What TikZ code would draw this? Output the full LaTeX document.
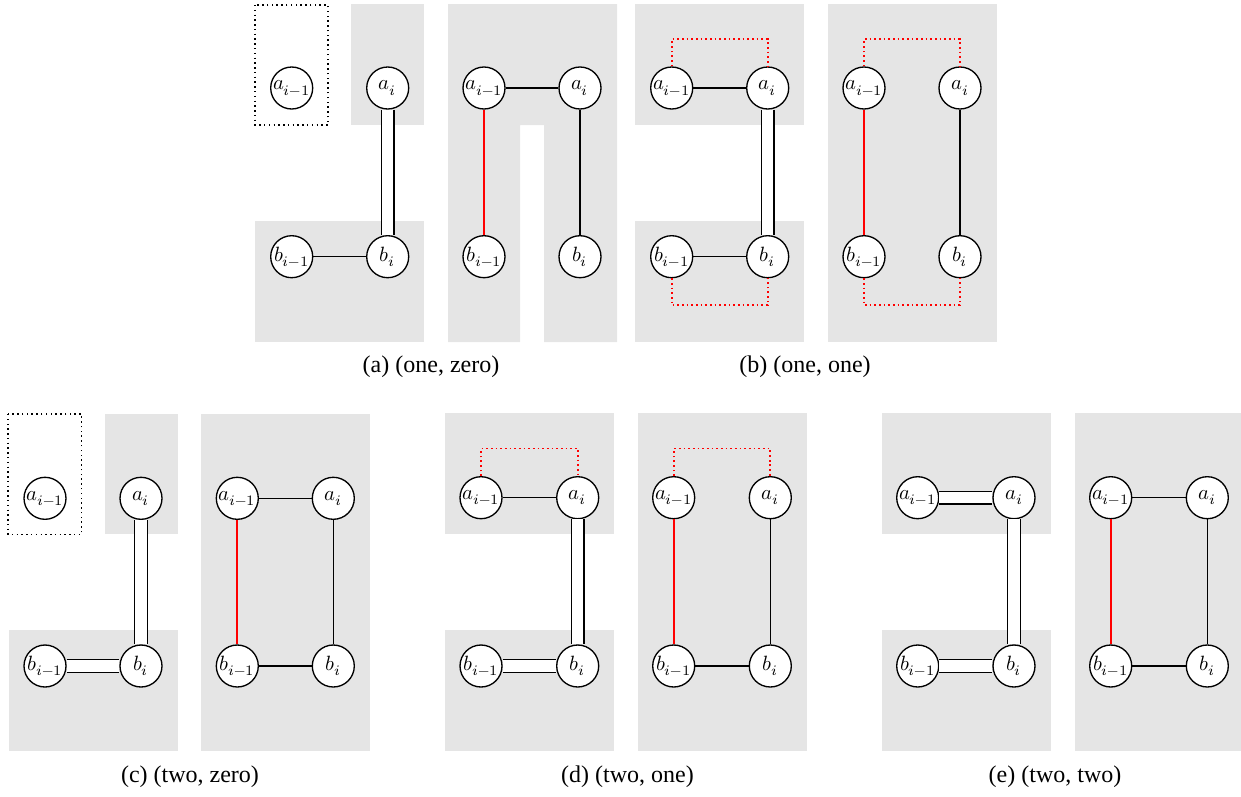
\documentclass[tikz,border=0pt]{standalone}
\usepackage{fontspec}
\setmainfont{Liberation Serif}
\usepackage{unicode-math}
\setmathfont{Latin Modern Math}
\begin{document}
\begin{tikzpicture}[x=0.45pt,y=-0.45pt,
  vnode/.style={circle,draw,line width=0.6pt,fill=white,minimum size=18.9pt,inner sep=0pt,font=\fontsize{9.3}{10}\selectfont},
  bg/.style={fill=black!10,draw=none},
  dotbox/.style={draw,line width=0.65pt,dash pattern=on 0.65pt off 1.5pt},
  sedge/.style={line width=0.65pt},
  redge/.style={line width=0.8pt,red},
  dbl/.style={line width=0.65pt,double,double distance=5.1pt},
  rdot/.style={red,line width=0.8pt,dash pattern=on 0.8pt off 1.3pt},
  captext/.style={font=\fontsize{10.8}{12}\selectfont}]
\useasboundingbox (0,0) rectangle (1241,796);

% ---------- (a) ----------
\draw[dotbox] (255,5) rectangle (328,125);
\fill[bg] (351,4) rectangle (424,125);
\fill[bg] (255,221) rectangle (424,342);
\node[vnode] (aA1) at (291.7,88) {$a_{i-1}$};
\node[vnode] (aA2) at (387.7,88) {$a_i$};
\node[vnode] (aB1) at (291.7,256.7) {$b_{i-1}$};
\node[vnode] (aB2) at (387.7,256.7) {$b_i$};
\draw[dbl] (aA2) -- (aB2);
\draw[sedge] (aB1) -- (aB2);

\fill[bg] (448,4) -- (617,4) -- (617,342) -- (544,342) -- (544,125) -- (520,125) -- (520,342) -- (448,342) -- cycle;
\node[vnode] (aC1) at (484,88) {$a_{i-1}$};
\node[vnode] (aC2) at (580,88) {$a_i$};
\node[vnode] (aD1) at (484,256.7) {$b_{i-1}$};
\node[vnode] (aD2) at (580,256.7) {$b_i$};
\draw[sedge] (aC1) -- (aC2);
\draw[redge] (aC1) -- (aD1);
\draw[sedge] (aC2) -- (aD2);
\node[captext] (capa) at (431,367) {(a) (one, zero)};

% ---------- (b) ----------
\fill[bg] (635,4) rectangle (804,125);
\fill[bg] (635,221) rectangle (804,342);
\node[vnode] (bA1) at (671.7,88) {$a_{i-1}$};
\node[vnode] (bA2) at (767.7,88) {$a_i$};
\node[vnode] (bB1) at (671.7,256.7) {$b_{i-1}$};
\node[vnode] (bB2) at (767.7,256.7) {$b_i$};
\draw[sedge] (bA1) -- (bA2);
\draw[sedge] (bB1) -- (bB2);
\draw[dbl] (bA2) -- (bB2);
\draw[rdot] (bA1.north) -- ++(0,-27) -| (bA2.north);
\draw[rdot] (bB1.south) -- ++(0,27) -| (bB2.south);

\fill[bg] (828,4) rectangle (997,342);
\node[vnode] (bC1) at (864,88) {$a_{i-1}$};
\node[vnode] (bC2) at (960,88) {$a_i$};
\node[vnode] (bD1) at (864,256.7) {$b_{i-1}$};
\node[vnode] (bD2) at (960,256.7) {$b_i$};
\draw[redge] (bC1) -- (bD1);
\draw[sedge] (bC2) -- (bD2);
\draw[rdot] (bC1.north) -- ++(0,-27) -| (bC2.north);
\draw[rdot] (bD1.south) -- ++(0,27) -| (bD2.south);
\node[captext] (capb) at (805,367) {(b) (one, one)};

% ---------- (c) ----------
\draw[dotbox] (8,414) rectangle (81.7,534.3);
\fill[bg] (105.3,414) rectangle (177.7,534.3);
\fill[bg] (9,630.3) rectangle (177.7,750.7);
\node[vnode] (cA1) at (45,498.3) {$a_{i-1}$};
\node[vnode] (cA2) at (141,498.3) {$a_i$};
\node[vnode] (cB1) at (45,666) {$b_{i-1}$};
\node[vnode] (cB2) at (141,666) {$b_i$};
\draw[dbl] (cA2) -- (cB2);
\draw[dbl] (cB1) -- (cB2);

\fill[bg] (201,414) rectangle (370,750.7);
\node[vnode] (cC1) at (237.3,498.3) {$a_{i-1}$};
\node[vnode] (cC2) at (333.3,498.3) {$a_i$};
\node[vnode] (cD1) at (237.3,666) {$b_{i-1}$};
\node[vnode] (cD2) at (333.3,666) {$b_i$};
\draw[sedge] (cC1) -- (cC2);
\draw[sedge] (cD1) -- (cD2);
\draw[redge] (cC1) -- (cD1);
\draw[sedge] (cC2) -- (cD2);
\node[captext] (capc) at (190,777) {(c) (two, zero)};

% ---------- (d) ----------
\fill[bg] (445,413) rectangle (614,533.7);
\fill[bg] (445,630) rectangle (614,750.7);
\node[vnode] (dA1) at (481,497.7) {$a_{i-1}$};
\node[vnode] (dA2) at (577.7,497.7) {$a_i$};
\node[vnode] (dB1) at (481,666) {$b_{i-1}$};
\node[vnode] (dB2) at (577.7,666) {$b_i$};
\draw[sedge] (dA1) -- (dA2);
\draw[dbl] (dB1) -- (dB2);
\draw[dbl] (dA2) -- (dB2);
\draw[rdot] (dA1.north) -- ++(0,-27.5) -| (dA2.north);

\fill[bg] (638,413) rectangle (806.7,750.7);
\node[vnode] (dC1) at (673.7,497.7) {$a_{i-1}$};
\node[vnode] (dC2) at (770.3,497.7) {$a_i$};
\node[vnode] (dD1) at (673.7,666) {$b_{i-1}$};
\node[vnode] (dD2) at (770.3,666) {$b_i$};
\draw[redge] (dC1) -- (dD1);
\draw[sedge] (dC2) -- (dD2);
\draw[sedge] (dD1) -- (dD2);
\draw[rdot] (dC1.north) -- ++(0,-27.5) -| (dC2.north);
\node[captext] (capd) at (627.5,777) {(d) (two, one)};

% ---------- (e) ----------
\fill[bg] (882,413) rectangle (1051,533.7);
\fill[bg] (882,630) rectangle (1051,750.7);
\node[vnode] (eA1) at (917.7,497.7) {$a_{i-1}$};
\node[vnode] (eA2) at (1014,497.7) {$a_i$};
\node[vnode] (eB1) at (917.7,666) {$b_{i-1}$};
\node[vnode] (eB2) at (1014,666) {$b_i$};
\draw[dbl] (eA1) -- (eA2);
\draw[dbl] (eB1) -- (eB2);
\draw[dbl] (eA2) -- (eB2);

\fill[bg] (1075,413) rectangle (1241,750.7);
\node[vnode] (eC1) at (1110.7,497.7) {$a_{i-1}$};
\node[vnode] (eC2) at (1207.3,497.7) {$a_i$};
\node[vnode] (eD1) at (1110.7,666) {$b_{i-1}$};
\node[vnode] (eD2) at (1207.3,666) {$b_i$};
\draw[sedge] (eC1) -- (eC2);
\draw[sedge] (eD1) -- (eD2);
\draw[redge] (eC1) -- (eD1);
\draw[sedge] (eC2) -- (eD2);
\node[captext] (cape) at (1055,777) {(e) (two, two)};
\end{tikzpicture}
\end{document}
